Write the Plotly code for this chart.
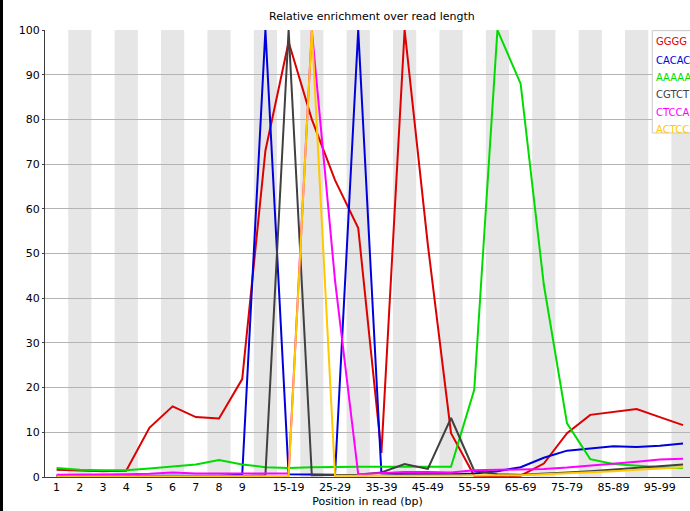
import plotly.graph_objects as go

categories = ["1", "2", "3", "4", "5", "6", "7", "8", "9",
              "10-14", "15-19", "20-24", "25-29", "30-34", "35-39", "40-44",
              "45-49", "50-54", "55-59", "60-64", "65-69", "70-74", "75-79",
              "80-84", "85-89", "90-94", "95-99", "100-101"]
shown_labels = ["1", "2", "3", "4", "5", "6", "7", "8", "9", "15-19", "25-29",
                "35-39", "45-49", "55-59", "65-69", "75-79", "85-89", "95-99"]
y_ticks = [0, 10, 20, 30, 40, 50, 60, 70, 80, 90, 100]

kmer_names = ["GGGG", "CACAC", "AAAAA", "CGTCT", "CTCCA", "ACTCC"]

ggggg = [1.6, 1.4, 1.3, 1.4, 11.0, 15.8, 13.4, 13.1, 21.9,
         73, 97.3, 80, 66.4, 55.7, 5.4, 100, 52, 9.8, 0.3, 0.2, 0.3,
         3.0, 9.8, 13.9, 14.6, 15.2, 13.4, 11.6]
cacac = [0.3, 0.3, 0.3, 0.3, 0.3, 0.3, 0.3, 0.3, 0.5,
         100, 0.6, 0.5, 0.5, 100, 0.8, 0.6, 0.6, 0.6, 0.8, 1.3, 2.2,
         4.3, 5.9, 6.4, 6.9, 6.7, 7.0, 7.5]
aaaaa = [2.0, 1.6, 1.5, 1.5, 1.9, 2.4, 2.8, 3.8, 2.8,
         2.2, 2.0, 2.2, 2.3, 2.3, 2.3, 2.3, 2.3, 2.3, 19.5, 100, 88,
         43, 12, 4, 2.9, 2.5, 2.2, 2.0]
cgtct = [0.2, 0.2, 0.2, 0.2, 0.2, 0.2, 0.2, 0.2, 0.2,
         0.4, 100, 0.4, 0.5, 0.5, 1.0, 2.9, 1.8, 13.2, 1.4, 0.6, 0.5,
         0.7, 1.0, 1.3, 1.7, 2.1, 2.5, 2.8]
ctcca = [0.5, 0.5, 0.6, 0.6, 0.7, 1.0, 0.8, 0.8, 0.7,
         0.7, 0.8, 100, 44, 0.6, 0.8, 1.1, 1.1, 1.0, 1.5, 1.6, 1.6,
         1.8, 2.1, 2.5, 3.0, 3.4, 3.9, 4.1]
actcc = [0.1, 0.1, 0.1, 0.1, 0.1, 0.1, 0.1, 0.1, 0.1,
         0.1, 0.2, 100, 0.3, 0.3, 0.3, 0.3, 0.3, 0.3, 0.3, 0.3, 0.4,
         0.6, 0.8, 1.0, 1.3, 1.6, 1.9, 2.2]

series = [ggggg, cacac, aaaaa, cgtct, ctcca, actcc]
colors = ["rgb(220,0,0)", "rgb(0,0,220)", "rgb(0,220,0)", "rgb(64,64,64)",
          "rgb(255,0,255)", "rgb(255,200,0)"]

fig = go.Figure()
for name, vals, col in zip(kmer_names, series, colors):
    fig.add_trace(go.Scatter(x=categories, y=vals, mode="lines", name=name,
                             line=dict(color=col, width=2), showlegend=False))

shapes = []
# alternating background bands
for i, c in enumerate(categories):
    if i % 2 == 1:
        shapes.append(dict(type="rect", xref="x", yref="paper",
                           x0=i - 0.5, x1=i + 0.5, y0=0, y1=1,
                           fillcolor="rgb(230,230,230)", line=dict(width=0),
                           layer="below"))
# legend box
shapes.append(dict(type="rect", xref="paper", yref="paper",
                   x0=0.9415, x1=1.1, y0=0.7696, y1=0.9985,
                   fillcolor="white", line=dict(color="rgb(200,200,200)", width=1),
                   layer="above"))

annotations = []
legend_y_px = [42, 60, 77, 95, 112, 129]
for name, col, ypx in zip(kmer_names, colors, legend_y_px):
    annotations.append(dict(x=0.9435, y=(477 - ypx) / 447, xref="paper", yref="paper",
                            text=name, showarrow=False, xanchor="left", yanchor="middle",
                            font=dict(color=col, size=10, family="DejaVu Sans")))

fig.update_layout(
    width=687, height=511,
    margin=dict(l=42, r=0, t=30, b=34),
    paper_bgcolor="white", plot_bgcolor="white",
    title=dict(text="Relative enrichment over read length", x=0.537, xanchor="center",
               y=0.968, yanchor="middle",
               font=dict(size=11, family="DejaVu Sans", color="black")),
    font=dict(family="DejaVu Sans", size=11, color="black"),
    shapes=shapes, annotations=annotations,
    xaxis=dict(type="category", categoryorder="array", categoryarray=categories,
               range=[-0.5, 27.3], tickmode="array", tickvals=shown_labels,
               ticktext=shown_labels, showgrid=False, zeroline=False,
               showline=True, linecolor="rgb(60,60,60)", linewidth=1,
               ticks="", tickfont=dict(size=11),
               title=dict(text="Position in read (bp)", font=dict(size=11), standoff=4)),
    yaxis=dict(range=[0, 100], tickmode="array", tickvals=y_ticks,
               showgrid=True, gridcolor="rgb(180,180,180)", gridwidth=1,
               zeroline=False, showline=True, linecolor="rgb(60,60,60)", linewidth=1,
               ticks="outside", ticklen=2, tickcolor="rgb(60,60,60)",
               tickfont=dict(size=11)),
)

fig.write_html("out.html", config={"displayModeBar": False},
               post_script=("document.body.style.margin='0 0 0 3px';"
                            "document.body.style.background='black';"
                            "document.documentElement.style.background='black';"
                            "document.body.style.overflow='hidden';"))
